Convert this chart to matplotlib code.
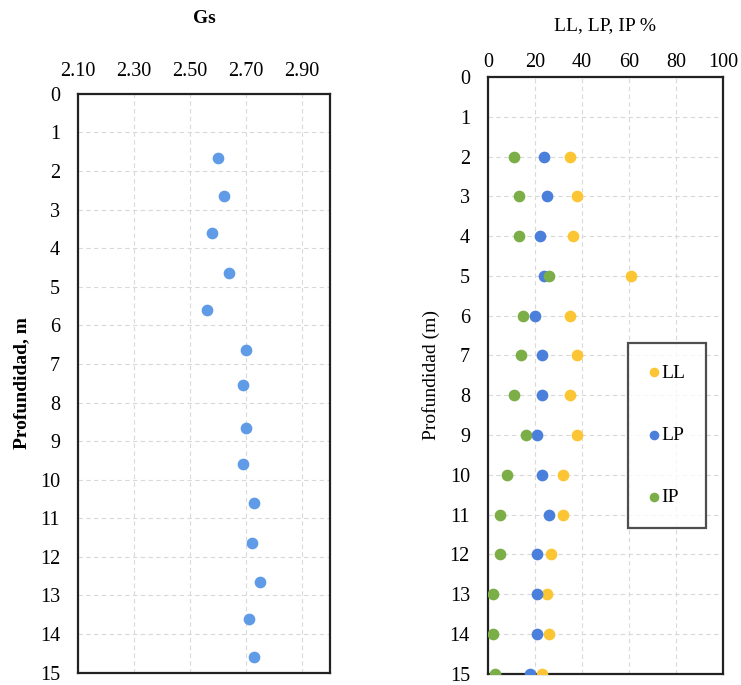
import numpy as np
import matplotlib
matplotlib.use('Agg')
import matplotlib.pyplot as plt

# Gs vs depth (left panel)
gs_depth = [1.65, 2.65, 3.6, 4.65, 5.6, 6.65, 7.55, 8.65, 9.6, 10.6, 11.65, 12.65, 13.6, 14.6]
gs_values = [2.60, 2.62, 2.58, 2.64, 2.56, 2.70, 2.69, 2.70, 2.69, 2.73, 2.72, 2.75, 2.71, 2.73]

# Atterberg limits vs depth (right panel)
lim_depth = [2, 3, 4, 5, 6, 7, 8, 9, 10, 11, 12, 13, 14, 15]
ll = [35, 38, 36, 61, 35, 38, 35, 38, 32, 32, 27, 25, 26, 23]
lp = [24, 25, 22, 24, 20, 23, 23, 21, 23, 26, 21, 21, 21, 18]
ip = [11, 13, 13, 26, 15, 14, 11, 16, 8, 5, 5, 2, 2, 3]

gs_ticks = [2.10, 2.30, 2.50, 2.70, 2.90]
lim_ticks = [0, 20, 40, 60, 80, 100]
depth_ticks = list(range(0, 16))

plt.rcParams.update({
    'font.family': ['Liberation Serif', 'DejaVu Serif'],
    'font.size': 14,
    'xtick.labelsize': 14.5,
    'ytick.labelsize': 14.5,
})

fig = plt.figure(figsize=(7.41, 6.85), dpi=100)
ax1 = fig.add_axes([0.1053, 0.018, 0.340, 0.845])
ax2 = fig.add_axes([0.6586, 0.0165, 0.317, 0.871])


def style_axis(ax, xticks, xlim, xpad):
    ax.set_ylim(15, 0)
    ax.set_xlim(*xlim)
    ax.set_yticks(depth_ticks)
    ax.set_xticks(xticks)
    ax.xaxis.tick_top()
    ax.xaxis.set_label_position('top')
    ax.tick_params(axis='both', length=0)
    ax.tick_params(axis='x', pad=xpad)
    ax.tick_params(axis='y', pad=13)
    ax.grid(True, color='#d9d9d9', lw=0.8, ls=(0, (4, 3)))
    ax.set_axisbelow(True)
    for sp in ax.spines.values():
        sp.set_linewidth(1.6)
        sp.set_color('#222222')


style_axis(ax1, gs_ticks, (2.1, 3.0), 9)
ax1.set_xticklabels([f'{t:.2f}' for t in gs_ticks])
ax1.scatter(gs_values, gs_depth, s=55, color='#5f9be6', zorder=3)
ax1.set_xlabel('Gs', fontweight='bold', fontsize=14, labelpad=28)
ax1.set_ylabel('Profundidad, m', fontweight='bold', fontsize=14, labelpad=7)

style_axis(ax2, lim_ticks, (0, 100), 4)
ax2.scatter(ll, lim_depth, s=55, color='#fbc534', label='LL', zorder=3)
ax2.scatter(lp, lim_depth, s=55, color='#4a7fdc', label='LP', zorder=3)
ax2.scatter(ip, lim_depth, s=55, color='#7cae48', label='IP', zorder=3)
ax2.set_xlabel('LL, LP, IP %', fontsize=14, labelpad=16)
ax2.set_ylabel('Profundidad (m)', fontsize=14, labelpad=7)

leg = ax2.legend(loc='upper left', bbox_to_anchor=(0.596, 0.555), frameon=True,
                 fancybox=False, edgecolor='#222222', labelspacing=2.3,
                 handletextpad=0.1, borderpad=1.1, handlelength=0.5,
                 borderaxespad=0.0, markerscale=0.8, fontsize=14)
leg.get_frame().set_linewidth(1.6)

fig.savefig('out.png', dpi=100)
